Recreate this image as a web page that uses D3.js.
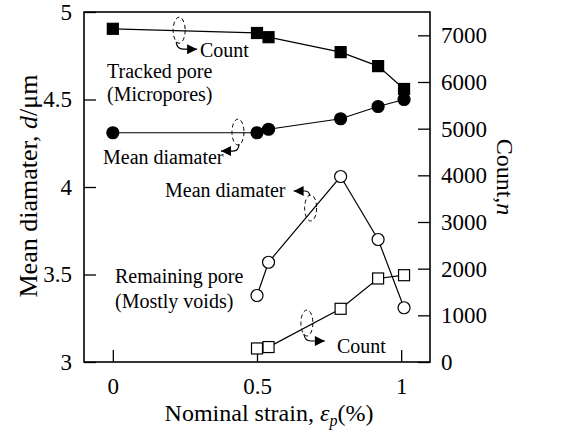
<!DOCTYPE html>
<html>
<head>
<meta charset="utf-8">
<script src="https://cdn.jsdelivr.net/npm/d3@7"></script>
<style>
  body { margin: 0; background: #fff; }
  svg { display: block; font-family: "Liberation Serif", "Times New Roman", serif; }
</style>
</head>
<body>
<div id="chart"></div>
<script>
// nominal strain (%) for the tracked pores
var strain = [0, 0.5, 0.54, 0.79, 0.92, 1.01];
var trackedCount = [7140, 7050, 6960, 6640, 6340, 5850];
var trackedDiameter = [4.31, 4.31, 4.33, 4.39, 4.46, 4.50];

// remaining pores only appear from 0.5%
var remainStrain = [0.5, 0.54, 0.79, 0.92, 1.01];
var remainDiameter = [3.38, 3.57, 4.06, 3.70, 3.31];
var remainCount = [290, 320, 1140, 1790, 1860];

var xTicks = [0, 0.5, 1];
var leftTicks = [3, 3.5, 4, 4.5, 5];
var rightTicks = [0, 1000, 2000, 3000, 4000, 5000, 6000, 7000];

var width = 575, height = 434;
var plotLeft = 84, plotRight = 430, plotTop = 12, plotBottom = 362;

var svg = d3.select("#chart").append("svg")
    .attr("width", width)
    .attr("height", height);

var x = d3.scaleLinear().domain([-0.1, 1.1]).range([plotLeft, plotRight]);
var yL = d3.scaleLinear().domain([3, 5]).range([plotBottom, plotTop]);
var yR = d3.scaleLinear().domain([0, 7500]).range([plotBottom, plotTop]);

// arrow head
svg.append("defs").append("marker")
    .attr("id", "head")
    .attr("markerUnits", "userSpaceOnUse")
    .attr("viewBox", "0 0 10 10")
    .attr("refX", 10).attr("refY", 5)
    .attr("markerWidth", 11).attr("markerHeight", 10)
    .attr("orient", "auto")
  .append("path")
    .attr("d", "M0,0L10,5L0,10Z")
    .attr("fill", "#000");

function styleAxis(g) {
    g.select(".domain").remove();
    g.selectAll(".tick line").attr("stroke", "#000").attr("stroke-width", 1.3);
    g.selectAll(".tick text")
        .attr("fill", "#000")
        .style("font-size", "23px")
        .style("font-family", "'Liberation Serif', 'Times New Roman', serif");
}

svg.append("g")
    .attr("transform", "translate(" + plotLeft + ",0)")
    .call(d3.axisLeft(yL).tickValues(leftTicks).tickSize(-12).tickPadding(12).tickFormat(d3.format("")))
    .call(styleAxis);

svg.append("g")
    .attr("transform", "translate(" + plotRight + ",0)")
    .call(d3.axisRight(yR).tickValues(rightTicks).tickSize(-12).tickPadding(11).tickFormat(d3.format("")))
    .call(styleAxis);

svg.append("g")
    .attr("transform", "translate(0," + plotBottom + ")")
    .call(d3.axisBottom(x).tickValues(xTicks).tickSize(-12).tickPadding(16).tickFormat(d3.format("")))
    .call(styleAxis);

// frame
svg.append("rect")
    .attr("x", plotLeft).attr("y", plotTop)
    .attr("width", plotRight - plotLeft).attr("height", plotBottom - plotTop)
    .attr("fill", "none")
    .attr("stroke", "#000")
    .attr("stroke-width", 1.6);

function series(xs, ys, yScale, shape, filled) {
    var pts = xs.map(function(d, i) { return [x(d), yScale(ys[i])]; });
    svg.append("path")
        .attr("d", d3.line()(pts))
        .attr("fill", "none")
        .attr("stroke", "#000")
        .attr("stroke-width", 1.2);
    var g = svg.append("g");
    if (shape == "square") {
        g.selectAll("rect").data(pts).enter().append("rect")
            .attr("x", function(d) { return d[0] - 5.5; })
            .attr("y", function(d) { return d[1] - 5.5; })
            .attr("width", 11).attr("height", 11)
            .attr("fill", filled ? "#000" : "#fff")
            .attr("stroke", "#000").attr("stroke-width", 1.2);
    } else {
        g.selectAll("circle").data(pts).enter().append("circle")
            .attr("cx", function(d) { return d[0]; })
            .attr("cy", function(d) { return d[1]; })
            .attr("r", 6)
            .attr("fill", filled ? "#000" : "#fff")
            .attr("stroke", "#000").attr("stroke-width", 1.2);
    }
}

series(strain, trackedCount, yR, "square", true);
series(strain, trackedDiameter, yL, "circle", true);
series(remainStrain, remainDiameter, yL, "circle", false);
series(remainStrain, remainCount, yR, "square", false);

// dashed ellipses with arrows pointing to the axis each curve belongs to
function pointer(cx, cy, pathStr) {
    svg.append("ellipse")
        .attr("cx", cx).attr("cy", cy)
        .attr("rx", 6).attr("ry", 13)
        .attr("fill", "none")
        .attr("stroke", "#000")
        .attr("stroke-width", 1)
        .attr("stroke-dasharray", "4,3");
    svg.append("path")
        .attr("d", pathStr)
        .attr("fill", "none")
        .attr("stroke", "#000")
        .attr("stroke-width", 1.2)
        .attr("marker-end", "url(#head)");
}

var cx, cy;
cx = x(0.23); cy = yR(7110);
pointer(cx, cy, "M" + (cx - 3) + "," + (cy + 12) + "Q" + (cx - 2) + "," + (cy + 19) + " " + (cx + 4) + "," + (cy + 19) + "L" + (cx + 18) + "," + (cy + 19));
cx = x(0.434); cy = yL(4.314);
pointer(cx, cy, "M" + (cx + 1) + "," + (cy + 12) + "Q" + (cx + 1) + "," + (cy + 19) + " " + (cx - 5) + "," + (cy + 19) + "L" + (cx - 17) + "," + (cy + 19));
cx = x(0.686); cy = yL(3.88);
pointer(cx, cy, "M" + (cx - 1) + "," + (cy - 12) + "Q" + (cx - 1) + "," + (cy - 17) + " " + (cx - 6) + "," + (cy - 17) + "L" + (cx - 17) + "," + (cy - 17));
cx = x(0.673); cy = yR(836);
pointer(cx, cy, "M" + (cx - 3) + "," + (cy + 11) + "Q" + (cx - 2) + "," + (cy + 18) + " " + (cx + 4) + "," + (cy + 18) + "L" + (cx + 18) + "," + (cy + 18));

function label(tx, ty, str) {
    svg.append("text")
        .attr("x", tx).attr("y", ty)
        .style("font-size", "20px")
        .text(str);
}
label(200, 57, "Count");
label(107, 78, "Tracked pore");
label(107, 101, "(Micropores)");
label(103, 164, "Mean diamater");
label(165, 197, "Mean diamater");
label(115, 283, "Remaining pore");
label(115, 308, "(Mostly voids)");
label(337, 353, "Count");

// axis titles
var lt = svg.append("text")
    .attr("transform", "translate(37,186) rotate(-90)")
    .attr("text-anchor", "middle")
    .style("font-size", "26px");
lt.append("tspan").text("Mean diamater, ");
lt.append("tspan").style("font-style", "italic").text("d");
lt.append("tspan").text("/\u03bcm");

var rt = svg.append("text")
    .attr("transform", "translate(497,177) rotate(90)")
    .attr("text-anchor", "middle")
    .style("font-size", "24px");
rt.append("tspan").text("Count,");
rt.append("tspan").style("font-style", "italic").text("n");

var bt = svg.append("text")
    .attr("x", 269).attr("y", 421)
    .attr("text-anchor", "middle")
    .style("font-size", "24px");
bt.append("tspan").text("Nominal strain, ");
bt.append("tspan").style("font-style", "italic").text("\u03b5");
bt.append("tspan").style("font-style", "italic").style("font-size", "16px").attr("dy", 5).text("p");
bt.append("tspan").attr("dy", -5).text("(%)");
</script>
</body>
</html>
